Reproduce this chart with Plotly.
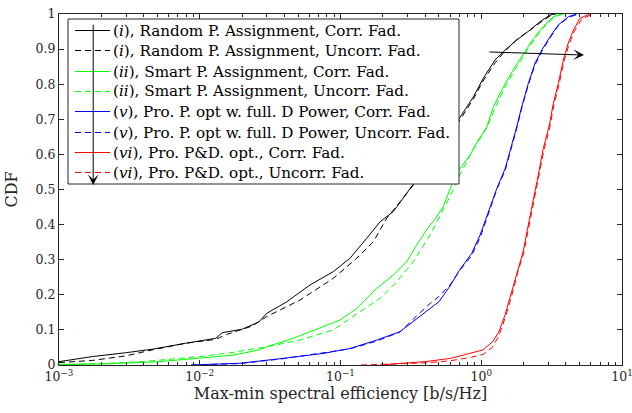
import math
import plotly.graph_objects as go

# ---------------- data ----------------
black_solid_x = [0.001, 0.001726, 0.002979, 0.004603, 0.007943, 0.01297, 0.01445, 0.02004, 0.02636, 0.0299,
                 0.0415, 0.0607, 0.0889, 0.1167, 0.1535, 0.191, 0.237, 0.279, 0.329, 0.398, 0.501, 0.603,
                 0.687, 0.879, 1.035, 1.253, 1.476, 1.786, 2.218, 2.612, 3.076, 3.31]
black_solid_y = [0.0095, 0.024, 0.035, 0.045, 0.062, 0.076, 0.092, 0.102, 0.123, 0.147,
                 0.18, 0.228, 0.266, 0.304, 0.361, 0.408, 0.437, 0.475, 0.513, 0.56, 0.62, 0.66,
                 0.698, 0.764, 0.817, 0.869, 0.897, 0.926, 0.954, 0.978, 0.997, 1.0]

black_dash_x = [0.001, 0.001726, 0.002979, 0.004603, 0.007943, 0.01297, 0.0155, 0.0236, 0.0299, 0.0515,
                0.0889, 0.1303, 0.171, 0.2128, 0.265, 0.329, 0.40, 0.50, 0.60, 0.69, 0.88, 1.04, 1.26,
                1.48, 1.80, 2.23, 2.62, 3.1, 3.4]
black_dash_y = [0.007, 0.013, 0.026, 0.043, 0.062, 0.073, 0.087, 0.111, 0.138, 0.185,
                0.247, 0.304, 0.351, 0.418, 0.465, 0.513, 0.555, 0.61, 0.655, 0.692, 0.758, 0.812, 0.862,
                0.895, 0.928, 0.956, 0.975, 0.995, 1.0]

green_solid_x = [0.001, 0.002, 0.005, 0.01, 0.0173, 0.0263, 0.0299, 0.0462, 0.0714, 0.0991, 0.1303, 0.1807,
                 0.237, 0.295, 0.3475, 0.4325, 0.456, 0.537, 0.617, 0.706, 0.832, 0.953, 1.09, 1.22, 1.48,
                 1.74, 2.05, 2.35, 2.76, 3.25, 3.72]
green_solid_y = [0.001, 0.003, 0.009, 0.019, 0.028, 0.043, 0.052, 0.076, 0.105, 0.128, 0.161, 0.218,
                 0.256, 0.294, 0.342, 0.399, 0.408, 0.451, 0.513, 0.56, 0.598, 0.641, 0.676, 0.736, 0.802,
                 0.85, 0.893, 0.93, 0.964, 0.992, 1.0]

green_dash_x = [0.001, 0.002, 0.004, 0.0063, 0.01, 0.0173, 0.0299, 0.0515, 0.0889, 0.1377, 0.191, 0.2506,
                0.3289, 0.4325, 0.52, 0.60, 0.68, 0.78, 0.88, 1.0, 1.12, 1.25, 1.5, 1.76, 2.07, 2.38,
                2.78, 3.28, 3.8]
green_dash_y = [0.002, 0.004, 0.01, 0.016, 0.024, 0.036, 0.052, 0.071, 0.1, 0.152, 0.19, 0.237,
                0.294, 0.37, 0.43, 0.48, 0.53, 0.575, 0.615, 0.65, 0.684, 0.732, 0.797, 0.845, 0.89, 0.928,
                0.962, 0.99, 1.0]

blue_solid_x = [0.0087, 0.0193, 0.0393, 0.0755, 0.1167, 0.1807, 0.265, 0.3475, 0.4325, 0.5, 0.6, 0.7,
                0.855, 0.98, 1.15, 1.29, 1.48, 1.65, 1.79, 1.94, 2.16, 2.41, 2.69, 3.08, 3.53, 4.15, 4.76]
blue_solid_y = [0.0, 0.005, 0.019, 0.033, 0.047, 0.071, 0.095, 0.133, 0.161, 0.18, 0.225, 0.27,
                0.318, 0.37, 0.446, 0.503, 0.56, 0.627, 0.68, 0.736, 0.802, 0.86, 0.897, 0.935, 0.969, 0.992, 1.0]

blue_dash_x = [0.0087, 0.0193, 0.0393, 0.0755, 0.1167, 0.1807, 0.265, 0.3475, 0.4325, 0.5, 0.6, 0.7,
               0.855, 0.98, 1.15, 1.29, 1.48, 1.65, 1.79, 1.94, 2.16, 2.41, 2.69, 3.08, 3.53, 4.15, 4.9]
blue_dash_y = [0.0, 0.004, 0.018, 0.034, 0.046, 0.068, 0.094, 0.14, 0.175, 0.195, 0.228, 0.268,
               0.312, 0.362, 0.44, 0.5, 0.555, 0.62, 0.675, 0.732, 0.798, 0.855, 0.893, 0.932, 0.967, 0.99, 1.0]

red_solid_x = [0.19, 0.275, 0.408, 0.607, 0.843, 1.03, 1.21, 1.34, 1.48, 1.63, 1.80, 1.99, 2.16, 2.34,
               2.54, 2.76, 3.05, 3.25, 3.53, 3.83, 4.15, 4.51, 5.03, 5.9]
red_solid_y = [0.0, 0.005, 0.01, 0.019, 0.034, 0.043, 0.067, 0.096, 0.144, 0.202, 0.269, 0.325, 0.399, 0.465,
               0.541, 0.617, 0.684, 0.745, 0.802, 0.869, 0.917, 0.954, 0.988, 1.0]

red_dash_x = [0.14, 0.25, 0.4, 0.6, 0.85, 1.03, 1.2, 1.34, 1.48, 1.64, 1.82, 2.0, 2.18, 2.36, 2.56, 2.78,
              3.07, 3.28, 3.56, 3.86, 4.2, 4.6, 5.2, 6.3]
red_dash_y = [0.0, 0.003, 0.006, 0.012, 0.022, 0.03, 0.05, 0.085, 0.135, 0.195, 0.265, 0.318, 0.395, 0.46,
              0.535, 0.61, 0.678, 0.74, 0.797, 0.864, 0.913, 0.952, 0.987, 1.0]

legend_names = [
    "(<i>i</i>), Random P. Assignment, Corr. Fad.",
    "(<i>i</i>), Random P. Assignment, Uncorr. Fad.",
    "(<i>ii</i>), Smart P. Assignment, Corr. Fad.",
    "(<i>ii</i>), Smart P. Assignment, Uncorr. Fad.",
    "(<i>v</i>), Pro. P. opt w. full. D Power, Corr. Fad.",
    "(<i>v</i>), Pro. P. opt w. full. D Power, Uncorr. Fad.",
    "(<i>vi</i>), Pro. P&D. opt., Corr. Fad.",
    "(<i>vi</i>), Pro. P&D. opt., Uncorr. Fad.",
]

x_ticks = [0.001, 0.01, 0.1, 1, 10]
x_tick_labels = ["10<sup>\u22123</sup>", "10<sup>\u22122</sup>", "10<sup>\u22121</sup>",
                 "10<sup>0</sup>", "10<sup>1</sup>"]
y_ticks = [0, 0.1, 0.2, 0.3, 0.4, 0.5, 0.6, 0.7, 0.8, 0.9, 1]
y_tick_labels = ["0", "0.1", "0.2", "0.3", "0.4", "0.5", "0.6", "0.7", "0.8", "0.9", "1"]

# arrow end points (data units)
h_arrow_tail = (1.117, 0.892)
h_arrow_head = (5.37, 0.883)
v_arrow_tail = (0.00175, 0.974)
v_arrow_head = (0.00175, 0.513)

# ---------------- figure ----------------
series = [
    (black_solid_x, black_solid_y, "#000000", "solid"),
    (black_dash_x, black_dash_y, "#000000", "6px,4px"),
    (green_solid_x, green_solid_y, "#00FF00", "solid"),
    (green_dash_x, green_dash_y, "#00FF00", "6px,4px"),
    (blue_solid_x, blue_solid_y, "#0000FF", "solid"),
    (blue_dash_x, blue_dash_y, "#0000FF", "6px,4px"),
    (red_solid_x, red_solid_y, "#FF0000", "solid"),
    (red_dash_x, red_dash_y, "#FF0000", "6px,4px"),
]

fig = go.Figure()
for (xs, ys, col, dash), name in zip(series, legend_names):
    fig.add_trace(go.Scatter(x=xs, y=ys, mode="lines", name=name,
                             line=dict(color=col, width=1, dash=dash)))

SERIF = "DejaVu Serif"
AXC = "#262626"
W, H = 632, 413
ML, MR, MT, MB = 59, 10, 14, 48
PW, PH = W - ML - MR, H - MT - MB


def px2paper(px, py):
    return (px - ML) / PW, (H - MB - py) / PH


fig.update_layout(
    width=W, height=H,
    margin=dict(l=ML, r=MR, t=MT, b=MB, autoexpand=False),
    paper_bgcolor="white", plot_bgcolor="white",
    font=dict(family=SERIF, size=12.5, color=AXC),
    showlegend=False,
    xaxis=dict(type="log", range=[-3, 1], tickvals=x_ticks, ticktext=x_tick_labels,
               ticks="inside", ticklen=5, tickcolor=AXC, mirror="allticks", automargin=False,
               ticklabeloverflow="allow",
               showline=True, linecolor=AXC, linewidth=1, showgrid=False, zeroline=False,
               minor=dict(ticks="inside", ticklen=3, tickcolor=AXC, dtick="D1", showgrid=False),
               tickfont=dict(family=SERIF, size=12.5, color=AXC),
               title=dict(text="Max-min spectral efficiency [b/s/Hz]",
                          font=dict(family=SERIF, size=16, color=AXC), standoff=2)),
    yaxis=dict(range=[0, 1], tickvals=y_ticks, ticktext=y_tick_labels, automargin=False,
               ticklabeloverflow="allow",
               ticks="inside", ticklen=5, tickcolor=AXC, mirror="allticks",
               showline=True, linecolor=AXC, linewidth=1, showgrid=False, zeroline=False,
               tickfont=dict(family=SERIF, size=12.5, color=AXC),
               title=dict(text="CDF", font=dict(family=SERIF, size=16, color=AXC), standoff=14)),
)

# ---- legend box (drawn as an overlay so the arrow can pass over it, as in the reference) ----
bx0, by0 = px2paper(68, 184)
bx1, by1 = px2paper(459, 19)
fig.add_shape(type="rect", xref="paper", yref="paper", x0=bx0, y0=by0, x1=bx1, y1=by1,
              layer="above", fillcolor="white", line=dict(color=AXC, width=1))
for i, ((xs, ys, col, dash), name) in enumerate(zip(series, legend_names)):
    row_py = round(30 + 20.3 * i) + 0.5
    lx0, ly = px2paper(75, row_py)
    lx1, _ = px2paper(110, row_py)
    tx, _ = px2paper(111, row_py)
    fig.add_shape(type="line", xref="paper", yref="paper", x0=lx0, x1=lx1, y0=ly, y1=ly,
                  layer="above", line=dict(color=col, width=1, dash=dash))
    fig.add_annotation(x=tx, y=ly, xref="paper", yref="paper", xanchor="left", yanchor="middle",
                       text=name, showarrow=False,
                       font=dict(family=SERIF, size=15.2, color="black"))

for tail, head in [(h_arrow_tail, h_arrow_head), (v_arrow_tail, v_arrow_head)]:
    fig.add_annotation(x=math.log10(head[0]), y=head[1], ax=math.log10(tail[0]), ay=tail[1],
                       xref="x", yref="y", axref="x", ayref="y", text="",
                       showarrow=True, arrowhead=3, arrowsize=1.8, arrowwidth=1,
                       arrowcolor="black", standoff=0, startstandoff=0)

fig.write_html("out.html", config={"displayModeBar": False},
               post_script="document.body.style.margin='0';")
